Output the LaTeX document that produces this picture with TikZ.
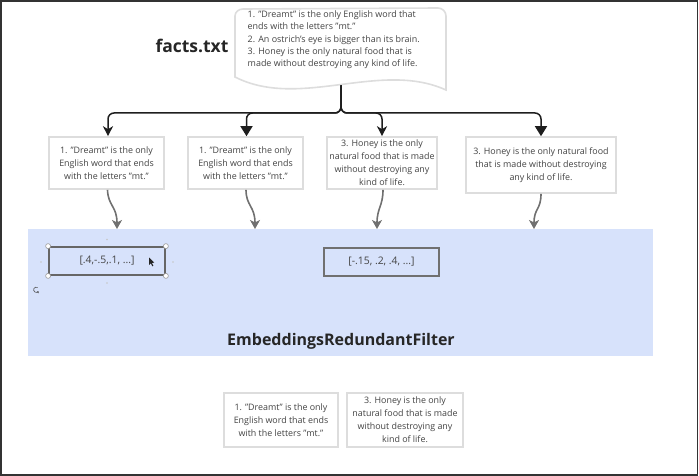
\documentclass[tikz,border=0pt]{standalone}
\usepackage{fontspec}
\setmainfont{Open Sans}[Ligatures=NoCommon]
\usetikzlibrary{arrows.meta}
\newcommand{\qt}{\char34\relax}
\definecolor{txt}{HTML}{444444}
\definecolor{boxline}{HTML}{DDDDDD}
\definecolor{bluebg}{HTML}{D7E2FB}
\definecolor{garrow}{HTML}{707070}
\definecolor{tree}{HTML}{1E1E1E}
\definecolor{frame}{HTML}{333333}
\tikzset{
  factbox/.style={draw=boxline, line width=1.6pt, fill=white, inner sep=0pt, align=center,
    text=txt, font=\fontsize{8.9}{13}\selectfont},
  embbox/.style={draw=garrow, line width=1.8pt, inner sep=0pt, text=txt,
    font=\fontsize{10.4}{12}\selectfont},
  treeline/.style={draw=tree, line width=1.5pt, rounded corners=6pt},
  smallhead/.style={-{Stealth[length=10pt,width=10pt,inset=3pt]}},
  bighead/.style={-{Triangle[length=10pt,width=12pt]}},
  grayarrow/.style={draw=garrow, line width=1.6pt, -{Stealth[length=9pt,width=10pt,inset=2.5pt]}},
  handle/.style={circle, draw=gray!80, fill=white, line width=0.6pt, inner sep=0pt, minimum size=5pt},
  tick/.style={circle, fill=gray!45, inner sep=0pt, minimum size=1.6pt}
}
\begin{document}
\begin{tikzpicture}[x=1pt,y=-1pt]
\useasboundingbox (0,0) rectangle (699,476);
% frame
\draw[frame, line width=1.6pt] (0.8,0.8) rectangle (697.5,474.8);

% title
\node[font=\fontsize{17.5}{20}\bfseries\selectfont, text=black!85] (title) at (192,46) {facts.txt};

% document shape
\draw[draw=boxline, line width=1.6pt, fill=white]
  (235,77) -- (235,16) to[out=90,in=180] (243,9) -- (438,8) to[out=0,in=90] (446,16) -- (446,90)
  .. controls (380,60) and (300,110) .. (235,77) -- cycle;
\node[anchor=north west, inner sep=0pt, align=left, text=txt,
      font=\fontsize{8.95}{12.3}\selectfont] (doc) at (247.5,10.5)
  {1. \qt Dreamt\qt{} is the only English word that\\
   ends with the letters \qt mt.\qt\\
   2. An ostrich's eye is bigger than its brain.\\
   3. Honey is the only natural food that is\\
   made without destroying any kind of life.};
\coordinate (docb) at (341,85.5);
\coordinate (junc) at (341,113);

% level-2 boxes
\node[factbox, minimum width=115pt, minimum height=52pt] (b1) at (106.5,163)
  {1. \qt Dreamt\qt{} is the only\\English word that ends\\with the letters \qt mt.\qt};
\node[factbox, minimum width=115pt, minimum height=52pt] (b2) at (245.5,163)
  {1. \qt Dreamt\qt{} is the only\\English word that ends\\with the letters \qt mt.\qt};
\node[factbox, minimum width=110pt, minimum height=52pt] (b3) at (382,163)
  {3. Honey is the only\\natural food that is made\\without destroying any\\kind of life.};
\node[factbox, minimum width=150pt, minimum height=56pt] (b4) at (541,165)
  {3. Honey is the only natural food\\that is made without destroying\\any kind of life.};

% tree connectors
\draw[treeline, smallhead] (docb) -- (junc) -| ([xshift=1.5pt]b1.north);
\draw[treeline, bighead] (docb) -- (junc) -| ([xshift=1pt]b2.north);
\draw[treeline, smallhead] (docb) -- (junc) -| (b3.north);
\draw[treeline, bighead] (docb) -- (junc) -| (b4.north);

% blue filter area
\fill[bluebg] (28,229) rectangle (653,355.5);
\node[font=\fontsize{16}{19}\bfseries\selectfont, text=black!85] (filt) at (341,341) {EmbeddingsRedundantFilter};

% gray arrows into filter
\coordinate (t1) at (117,229);
\coordinate (t2) at (255,229);
\coordinate (t3) at (377,229);
\coordinate (t4) at (534,229);
\draw[grayarrow] ([xshift=1pt]b1.south) .. controls (108,206) and (117,206) .. (t1);
\draw[grayarrow] ([xshift=0.5pt]b2.south) .. controls (246,206) and (255,206) .. (t2);
\draw[grayarrow] ([xshift=1pt]b3.south) .. controls (383,206) and (377,208) .. (t3);
\draw[grayarrow] (b4.south) .. controls (541,210) and (534,208) .. (t4);

% embedding boxes
\node[embbox, draw=black!60, minimum width=116pt, minimum height=28pt] (eA) at (107,261) {[.4,-.5,.1, ...]};
\node[embbox, minimum width=115pt, minimum height=28pt] (eB) at (381.5,262) {[-.15, .2, .4, ...]};

% selection handles around eA
\node[handle] at (eA.north west) {};
\node[handle] at (eA.north east) {};
\node[handle] at (eA.south west) {};
\node[handle] at (eA.south east) {};
\node[tick] at (107,239.5) {};
\node[tick] at (107,283) {};
\node[tick] at (41,262) {};
\node[tick] at (173,262) {};
% rotate icon
\draw[black!70, line width=0.6pt, -{Stealth[length=2pt,width=2.5pt]}] (37.5,287.5) arc (60:330:2.6pt);
% cursor
\fill[black!85] (149,257.5) -- (149,265) -- (150.8,263.3) -- (152.3,266.3) -- (153.3,265.8) -- (151.9,262.9) -- (154.3,262.6) -- cycle;

% bottom result boxes
\node[factbox, minimum width=114pt, minimum height=54pt] (c1) at (281,420)
  {1. \qt Dreamt\qt{} is the only\\English word that ends\\with the letters \qt mt.\qt};
\node[factbox, minimum width=116pt, minimum height=54pt] (c2) at (405,420)
  {3. Honey is the only\\natural food that is made\\without destroying any\\kind of life.};
\end{tikzpicture}
\end{document}
